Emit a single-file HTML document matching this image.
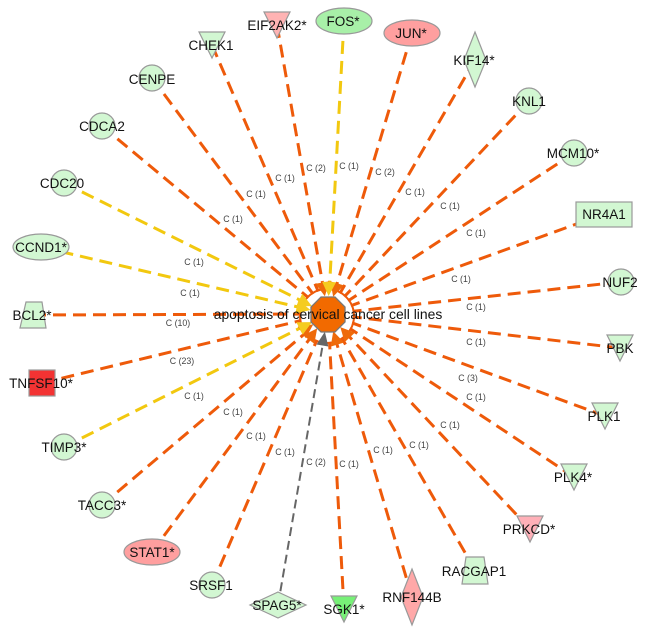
<!DOCTYPE html>
<html><head><meta charset="utf-8"><style>
html,body{margin:0;padding:0;background:#fff;width:650px;height:634px;overflow:hidden}
svg{display:block}
.n{font:13.5px "Liberation Sans",sans-serif;fill:#111;text-anchor:middle}
.e{font:8.8px "Liberation Sans",sans-serif;fill:#444;text-anchor:middle}
.o line{stroke:#ee5a0a;stroke-width:3;stroke-dasharray:13 7}
.y line{stroke:#f2c80f;stroke-width:3;stroke-dasharray:13 7}
.s *{stroke:#999;stroke-width:1.2}
.g{fill:#d2f7d2}
</style></head><body>
<svg width="650" height="634" viewBox="0 0 650 634" xmlns="http://www.w3.org/2000/svg">
<g class="o">
<line x1="212" y1="45" x2="328" y2="314"/>
<line x1="277" y1="25" x2="328" y2="314"/>
<line x1="412" y1="33" x2="328" y2="314"/>
<line x1="475" y1="60" x2="328" y2="314"/>
<line x1="529" y1="101" x2="328" y2="314"/>
<line x1="574" y1="153" x2="328" y2="314"/>
<line x1="604" y1="214" x2="328" y2="314"/>
<line x1="620" y1="282" x2="328" y2="314"/>
<line x1="620" y1="348" x2="328" y2="314"/>
<line x1="605" y1="416" x2="328" y2="314"/>
<line x1="574" y1="477" x2="328" y2="314"/>
<line x1="530" y1="529" x2="328" y2="314"/>
<line x1="475" y1="570" x2="328" y2="314"/>
<line x1="412" y1="597" x2="328" y2="314"/>
<line x1="344" y1="609" x2="328" y2="314"/>
<line x1="212" y1="585" x2="328" y2="314"/>
<line x1="152" y1="552" x2="328" y2="314"/>
<line x1="102" y1="505" x2="328" y2="314"/>
<line x1="42" y1="383" x2="328" y2="314"/>
<line x1="33" y1="315" x2="328" y2="314"/>
<line x1="102" y1="126" x2="328" y2="314"/>
<line x1="152" y1="78" x2="328" y2="314"/>
</g>
<g class="y">
<line x1="344" y1="21" x2="328" y2="314"/>
<line x1="64" y1="183" x2="328" y2="314"/>
<line x1="41" y1="247" x2="328" y2="314"/>
<line x1="64" y1="447" x2="328" y2="314"/>
</g>
<line x1="278" y1="605" x2="328" y2="314" stroke="#666" stroke-width="2" stroke-dasharray="9 5"/>

<circle cx="327" cy="316" r="26" fill="#fff"/>
<circle cx="327" cy="316" r="27" fill="none" stroke="#ee5a0a" stroke-width="2"/>

<g fill="#ee6a0a">
<polygon points="328,296 321,282 335,282" transform="rotate(-10 328 314)"/>
<polygon points="328,296 321,282 335,282" transform="rotate(16.6 328 314)"/>
<polygon points="328,296 321,282 335,282" transform="rotate(-143 328 314)"/>
<polygon points="328,296 321,282 335,282" transform="rotate(163 328 314)"/>
<polygon points="328,296 321,282 335,282" transform="rotate(137 328 314)"/>
<polygon points="328,296 321,282 335,282" transform="rotate(-125 328 314)"/>
</g>
<g fill="#f5cc20">
<polygon points="328,296 321,282 335,282" transform="rotate(2 328 314)"/>
<polygon points="328,296 321,282 335,282" transform="rotate(-64 328 314)"/>
<polygon points="328,296 321,282 335,282" transform="rotate(-77 328 314)"/>
<polygon points="328,296 321,282 335,282" transform="rotate(-117 328 314)"/>
</g>
<polygon points="328,296 322,282 334,282" fill="#666" transform="rotate(190 328 314)"/>

<polygon points="321,297 335,297 345,307 345,322 335,332 321,332 311,322 311,307" fill="#f26a00" stroke="#777" stroke-width="1.3"/>

<g class="s">
<polygon class="g" points="199,32 225,32 212,58"/>
<polygon fill="#ffb3b3" points="264,12 290,12 277,38"/>
<ellipse cx="344" cy="21" rx="28" ry="13" fill="#a8f0a8"/>
<ellipse cx="412" cy="33" rx="28" ry="13" fill="#ff9f9f"/>
<polygon class="g" points="475,32 486,60 475,87 464,60"/>
<circle class="g" cx="529" cy="101" r="13"/>
<circle class="g" cx="574" cy="153" r="13"/>
<rect class="g" x="576" y="202" width="56" height="25"/>
<circle class="g" cx="621" cy="282" r="13"/>
<polygon class="g" points="607,335 633,335 620,361"/>
<polygon class="g" points="592,403 618,403 605,429"/>
<polygon class="g" points="561,464 587,464 574,490"/>
<polygon fill="#ffb0b8" points="517,516 543,516 530,542"/>
<polygon class="g" points="466,557 484,557 488,584 462,584"/>
<polygon fill="#ffa8a8" points="412,569 423,597 412,625 401,597"/>
<polygon fill="#77f077" points="331,596 357,596 344,622"/>
<polygon class="g" points="278,592 306,605 278,618 250,605"/>
<circle class="g" cx="212" cy="585" r="13"/>
<ellipse cx="152" cy="552" rx="28" ry="13" fill="#ff9f9f"/>
<circle class="g" cx="102" cy="505" r="13"/>
<circle class="g" cx="64" cy="447" r="13"/>
<rect x="29" y="370" width="26" height="26" fill="#f33333"/>
<polygon class="g" points="26,302 42,302 46,328 20,328"/>
<ellipse class="g" cx="41" cy="247" rx="28" ry="13"/>
<circle class="g" cx="64" cy="183" r="13"/>
<circle class="g" cx="102" cy="126" r="13"/>
<circle class="g" cx="152" cy="78" r="13"/>
</g>

<text class="n" x="328" y="319" style="font-size:13.9px">apoptosis of cervical cancer cell lines</text>
<text class="n" x="211" y="50">CHEK1</text>
<text class="n" x="277" y="30">EIF2AK2*</text>
<text class="n" x="343" y="26">FOS*</text>
<text class="n" x="411" y="38">JUN*</text>
<text class="n" x="474" y="65">KIF14*</text>
<text class="n" x="529" y="106">KNL1</text>
<text class="n" x="573" y="158">MCM10*</text>
<text class="n" x="604" y="219">NR4A1</text>
<text class="n" x="620" y="287">NUF2</text>
<text class="n" x="620" y="353">PBK</text>
<text class="n" x="604" y="421">PLK1</text>
<text class="n" x="573" y="482">PLK4*</text>
<text class="n" x="529" y="534">PRKCD*</text>
<text class="n" x="474" y="576">RACGAP1</text>
<text class="n" x="412" y="602">RNF144B</text>
<text class="n" x="344" y="614">SGK1*</text>
<text class="n" x="277" y="610">SPAG5*</text>
<text class="n" x="211" y="590">SRSF1</text>
<text class="n" x="152" y="557">STAT1*</text>
<text class="n" x="102" y="510">TACC3*</text>
<text class="n" x="64" y="452">TIMP3*</text>
<text class="n" x="41" y="388">TNFSF10*</text>
<text class="n" x="32" y="320">BCL2*</text>
<text class="n" x="41" y="252">CCND1*</text>
<text class="n" x="62" y="188">CDC20</text>
<text class="n" x="102" y="131">CDCA2</text>
<text class="n" x="152" y="84">CENPE</text>

<text class="e" x="316" y="171">C (2)</text>
<text class="e" x="285" y="181">C (1)</text>
<text class="e" x="256" y="197">C (1)</text>
<text class="e" x="233" y="222">C (1)</text>
<text class="e" x="194" y="265">C (1)</text>
<text class="e" x="190" y="296">C (1)</text>
<text class="e" x="349" y="169">C (1)</text>
<text class="e" x="385" y="175">C (2)</text>
<text class="e" x="415" y="195">C (1)</text>
<text class="e" x="450" y="209">C (1)</text>
<text class="e" x="476" y="236">C (1)</text>
<text class="e" x="461" y="282">C (1)</text>
<text class="e" x="476" y="310">C (1)</text>
<text class="e" x="476" y="345">C (1)</text>
<text class="e" x="468" y="381">C (3)</text>
<text class="e" x="476" y="400">C (1)</text>
<text class="e" x="450" y="428">C (1)</text>
<text class="e" x="419" y="448">C (1)</text>
<text class="e" x="383" y="453">C (1)</text>
<text class="e" x="349" y="467">C (1)</text>
<text class="e" x="178" y="326">C (10)</text>
<text class="e" x="182" y="364">C (23)</text>
<text class="e" x="194" y="399">C (1)</text>
<text class="e" x="233" y="415">C (1)</text>
<text class="e" x="256" y="439">C (1)</text>
<text class="e" x="285" y="455">C (1)</text>
<text class="e" x="316" y="465">C (2)</text>
</svg>
</body></html>
